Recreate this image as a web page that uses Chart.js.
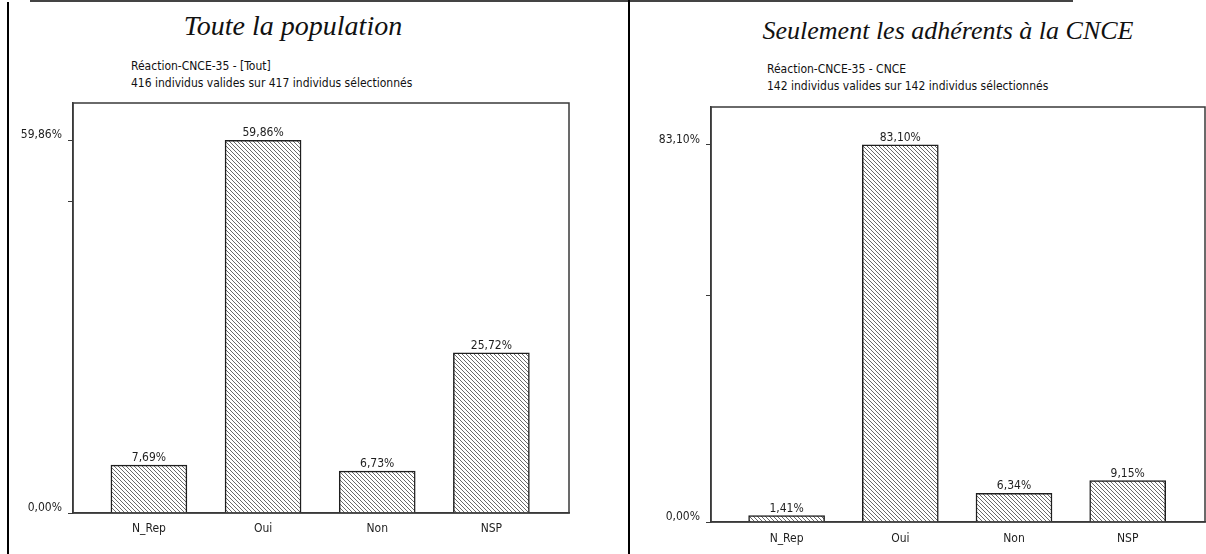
<!DOCTYPE html>
<html lang="fr">
<head>
<meta charset="utf-8">
<title>Réaction-CNCE-35</title>
<script src="https://cdn.jsdelivr.net/npm/chart.js@4.4.1/dist/chart.umd.min.js"></script>
<style>
  html, body { margin: 0; padding: 0; background: #fff; }
  body {
    width: 1206px; height: 554px; position: relative; overflow: hidden;
    font-family: 'Liberation Sans Narrow', 'DejaVu Sans Condensed', sans-serif;
    color: #111;
  }
  .rule-top { position: absolute; left: 30px; top: 0; width: 1043px; height: 2px; background: #444; }
  .rule-left { position: absolute; left: 7px; top: 2px; width: 2px; height: 552px; background: #000; }
  .rule-mid { position: absolute; left: 628px; top: 0; width: 2px; height: 554px; background: #000; }
  .title {
    position: absolute; transform: translateX(-50%); white-space: nowrap;
    font-family: 'Liberation Serif', 'Times New Roman', serif; font-style: italic;
  }
  .sub { position: absolute; font-size: 12px; line-height: 17px; white-space: nowrap; }
  canvas { position: absolute; top: 0; }
</style>
</head>
<body>
<div class="rule-top"></div>
<div class="rule-left"></div>
<div class="rule-mid"></div>

<div class="title" style="left:293px; top:10px; font-size:28px;">Toute la population</div>
<div class="sub" style="left:131px; top:58px;">Réaction-CNCE-35 - [Tout]<br>416 individus valides sur 417 individus sélectionnés</div>

<div class="title" style="left:948px; top:16px; font-size:26px;">Seulement les adhérents à la CNCE</div>
<div class="sub" style="left:767px; top:61px;">Réaction-CNCE-35 - CNCE<br>142 individus valides sur 142 individus sélectionnés</div>

<canvas id="chartTout" width="625" height="554" style="left:0;"></canvas>
<canvas id="chartCnce" width="581" height="554" style="left:625px;"></canvas>

<script>
// données (en %)
const categories = ['N_Rep', 'Oui', 'Non', 'NSP'];
const toutValues = [7.69, 59.86, 6.73, 25.72];
const cnceValues = [1.41, 83.10, 6.34, 9.15];
const midTicks = [50]; // petite graduation sans libellé

const FONT = "'Liberation Sans Narrow', 'DejaVu Sans Condensed', sans-serif";
const INK = '#1e1e1e';

function fmtPct(v) {
    return v.toFixed(2).replace('.', ',') + '%';
}

// hachures "\\\" des barres
function makeHatch(ctx) {
    const c = document.createElement('canvas');
    c.width = 4; c.height = 4;
    const g = c.getContext('2d');
    g.fillStyle = '#ffffff';
    g.fillRect(0, 0, 4, 4);
    g.fillStyle = '#6a6a6a';
    for (let i = 0; i < 4; i++) g.fillRect(i, i, 1, 1);
    return ctx.createPattern(c, 'repeat');
}

// cadre autour de la zone de tracé
const framePlugin = {
    id: 'frame',
    afterDraw(chart) {
        const a = chart.chartArea;
        const ctx = chart.ctx;
        ctx.save();
        ctx.strokeStyle = '#3a3a3a';
        ctx.lineWidth = 1.5;
        ctx.strokeRect(a.left, a.top, a.right - a.left, a.bottom - a.top);
        ctx.restore();
    }
};

// valeurs au-dessus des barres
const valueLabels = {
    id: 'valueLabels',
    afterDatasetsDraw(chart) {
        const ctx = chart.ctx;
        const meta = chart.getDatasetMeta(0);
        const raw = chart.data.datasets[0].data;
        ctx.save();
        ctx.font = '12px ' + FONT;
        ctx.fillStyle = INK;
        ctx.textAlign = 'center';
        ctx.textBaseline = 'bottom';
        meta.data.forEach((bar, i) => {
            ctx.fillText(fmtPct(raw[i].y), bar.x, bar.y - 1);
        });
        ctx.restore();
    }
};

function renderPanel(canvasId, values, box) {
    const ctx = document.getElementById(canvasId).getContext('2d');
    const peak = Math.max(...values);

    new Chart(ctx, {
        type: 'bar',
        data: {
            datasets: [{
                data: values.map((v, i) => ({ x: i, y: v })),
                backgroundColor: makeHatch(ctx),
                borderColor: INK,
                borderWidth: 1.5,
                barThickness: 76
            }]
        },
        plugins: [framePlugin, valueLabels],
        options: {
            responsive: false,
            animation: false,
            layout: {
                padding: { left: 0, top: box.top, right: box.right, bottom: 0 }
            },
            plugins: {
                legend: { display: false },
                tooltip: { enabled: false }
            },
            scales: {
                x: {
                    type: 'linear',
                    offset: false,
                    min: -0.665,
                    max: 3.68,
                    afterBuildTicks: s => { s.ticks = categories.map((c, i) => ({ value: i })); },
                    afterFit: s => { s.height = box.axisHeight; },
                    grid: { display: false, offset: false, drawTicks: false },
                    border: { display: true, color: '#3a3a3a', width: 1.5 },
                    ticks: {
                        autoSkip: false,
                        maxRotation: 0,
                        padding: box.labelPad,
                        color: INK,
                        font: { family: FONT, size: 12 },
                        callback: v => categories[v]
                    }
                },
                y: {
                    min: 0,
                    max: peak * 1.1,
                    afterBuildTicks: s => {
                        s.ticks = [0, ...midTicks, peak].map(v => ({ value: v }));
                    },
                    afterFit: s => { s.width = box.axisWidth; },
                    grid: {
                        drawOnChartArea: false,
                        drawTicks: true,
                        tickLength: 5,
                        color: '#3a3a3a'
                    },
                    border: { display: true, color: '#3a3a3a', width: 1.5 },
                    ticks: {
                        padding: 6,
                        labelOffset: -5,
                        color: INK,
                        font: { family: FONT, size: 12 },
                        callback: v => (v === 0 || v === peak) ? fmtPct(v) : ''
                    }
                }
            }
        }
    });
}

renderPanel('chartTout', toutValues, { top: 103, right: 56, axisWidth: 73, axisHeight: 41, labelPad: 9 });
renderPanel('chartCnce', cnceValues, { top: 107, right: 1, axisWidth: 86, axisHeight: 32, labelPad: 10 });
</script>
</body>
</html>
